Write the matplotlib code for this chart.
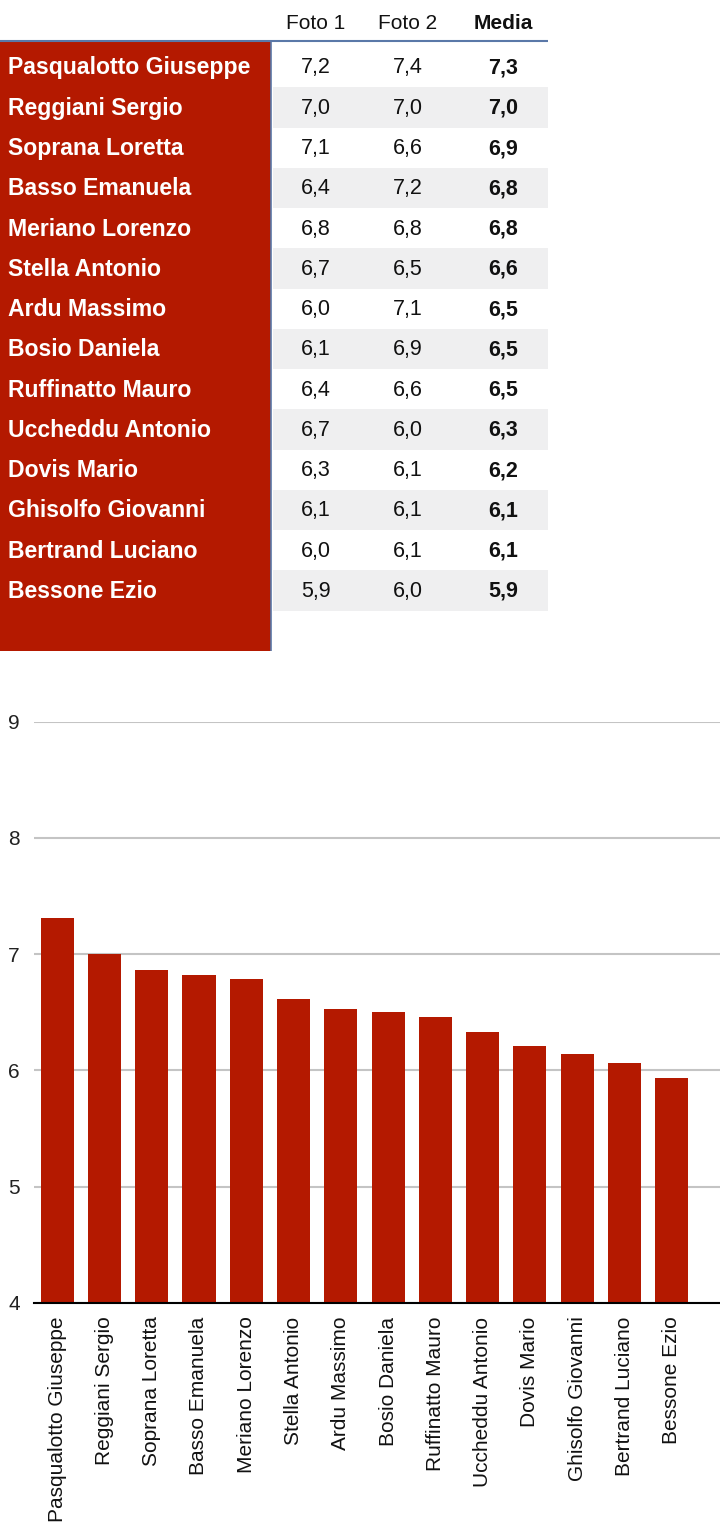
import matplotlib
matplotlib.use("Agg")
import matplotlib.pyplot as plt
from matplotlib.patches import Rectangle

plt.rcParams['font.family'] = ['Liberation Sans', 'DejaVu Sans']

nomi = ["Pasqualotto Giuseppe", "Reggiani Sergio", "Soprana Loretta", "Basso Emanuela",
        "Meriano Lorenzo", "Stella Antonio", "Ardu Massimo", "Bosio Daniela",
        "Ruffinatto Mauro", "Uccheddu Antonio", "Dovis Mario", "Ghisolfo Giovanni",
        "Bertrand Luciano", "Bessone Ezio"]
foto1 = [7.2, 7.0, 7.1, 6.4, 6.8, 6.7, 6.0, 6.1, 6.4, 6.7, 6.3, 6.1, 6.0, 5.9]
foto2 = [7.4, 7.0, 6.6, 7.2, 6.8, 6.5, 7.1, 6.9, 6.6, 6.0, 6.1, 6.1, 6.1, 6.0]
medie = [7.31, 7.00, 6.86, 6.82, 6.79, 6.61, 6.53, 6.50, 6.46, 6.33, 6.21, 6.14, 6.06, 5.93]
colonne = ["Foto 1", "Foto 2", "Media"]

rosso = '#b41900'
grigio = '#efeff0'
blu = '#5a78a8'

def fmt(v):
    return f"{v:.1f}".replace('.', ',')

W, H = 720, 1526
fig = plt.figure(figsize=(W / 100, H / 100), dpi=100)

# --- tabella ---
n = len(nomi)
tab_h = 651
tax = fig.add_axes([0, 1 - tab_h / H, 1, tab_h / H])
tax.set_xlim(0, W)
tax.set_ylim(n + 1, -47 / 40.3)
tax.axis('off')

top = -0.15
tax.add_patch(Rectangle((0, top), 271, n + 1 - top, color=rosso, lw=0))
righe_grigie = [i for i in range(n) if i % 2 == 1]
tax.barh([i + 0.5 for i in righe_grigie], 275, left=273, height=1, color=grigio, lw=0)
tax.hlines(top, 0, 548, color=blu, lw=1.5)
tax.vlines(271, top, n + 1, color=blu, lw=1.2)

xcol = [316, 408, 503]
for j, c in enumerate(colonne):
    tax.text(xcol[j], -0.64, c, ha='center', va='center_baseline', fontsize=15,
             fontweight='bold' if c == "Media" else 'normal', color='#111111')

for i, nome in enumerate(nomi):
    y = i + 0.46
    tax.text(8, y, nome, ha='left', va='center_baseline', fontsize=16.6, fontweight='bold',
             color='white')
    tax.text(xcol[0], y, fmt(foto1[i]), ha='center', va='center_baseline', fontsize=15.5,
             color='#111111')
    tax.text(xcol[1], y, fmt(foto2[i]), ha='center', va='center_baseline', fontsize=15.5,
             color='#111111')
    tax.text(xcol[2], y, fmt(medie[i]), ha='center', va='center_baseline', fontsize=15.5,
             fontweight='bold', color='#111111')

# --- grafico a barre ---
y0_px, y9_px = 1302.7, 721.7
ax = fig.add_axes([34 / W, 1 - y0_px / H, 1 - 34 / W, (y0_px - y9_px) / H])
x = list(range(n))
ax.bar(x, medie, width=0.7, color=rosso, zorder=3)
ax.set_xlim(-0.49, n - 1 + 1.02)
ax.set_ylim(4, 9)
ax.set_yticks([4, 5, 6, 7, 8, 9])
ax.yaxis.grid(True, color='#c4c4c4', lw=1.5, zorder=0)
ax.set_axisbelow(True)
for s in ['left', 'right', 'top']:
    ax.spines[s].set_visible(False)
ax.spines['bottom'].set_color('black')
ax.spines['bottom'].set_linewidth(1.5)
ax.spines['bottom'].set_zorder(4)
ax.set_xticks(x)
ax.set_xticklabels(nomi, rotation=90, fontsize=15, color='#111111')
ax.tick_params(axis='x', length=0, pad=10)
ax.tick_params(axis='y', length=0, labelsize=15, labelcolor='#222222')
for lab in ax.get_yticklabels():
    lab.set_horizontalalignment('left')
ax.yaxis.set_tick_params(pad=18.5)

fig.savefig("out.png", dpi=100)
